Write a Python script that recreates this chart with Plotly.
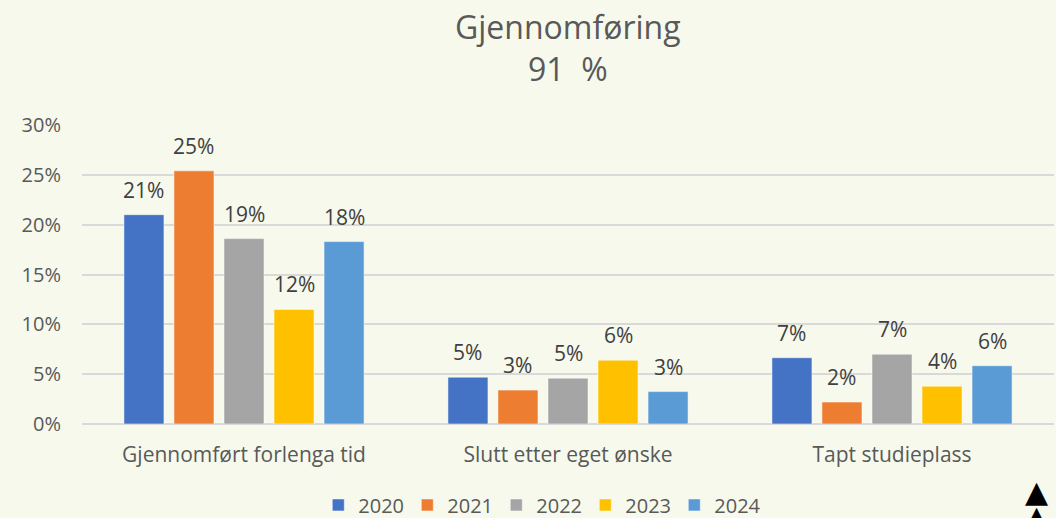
import plotly.graph_objects as go

categories = ["Gjennomført forlenga tid", "Slutt etter eget ønske", "Tapt studieplass"]
years = ["2020", "2021", "2022", "2023", "2024"]
values = {
    "2020": [0.210, 0.047, 0.0665],
    "2021": [0.254, 0.034, 0.022],
    "2022": [0.186, 0.046, 0.070],
    "2023": [0.115, 0.064, 0.038],
    "2024": [0.183, 0.0325, 0.0585],
}
colors = ["#4472C4", "#ED7D31", "#A5A5A5", "#FFC000", "#5B9BD5"]
title_lines = ["Gjennomføring", "91  %"]
y_ticks = [0, 0.05, 0.10, 0.15, 0.20, 0.25, 0.30]

bg = "#F6F9EC"
font_family = "Open Sans, Noto Sans, sans-serif"

fig = go.Figure()
for yr, col in zip(years, colors):
    fig.add_trace(go.Bar(
        name=yr, x=categories, y=values[yr],
        marker=dict(color=col, line=dict(color="rgba(255,255,255,0.5)", width=1)),
        hoverinfo="skip",
    ))

# data labels via annotations (positioned above each bar)
bargap = 0.228
slot = (1 - bargap) / len(years)
annotations = []
for j, yr in enumerate(years):
    for i, v in enumerate(values[yr]):
        annotations.append(dict(
            x=i + (j - (len(years) - 1) / 2) * slot, y=v, xref="x", yref="y",
            text=f"{round(v*100)}%", showarrow=False, yanchor="bottom", yshift=9,
            font=dict(size=21, color="#404040", family=font_family),
        ))

annotations.append(dict(
    x=0.5, y=1, xref="paper", yref="paper", xanchor="center", yanchor="top",
    yshift=122, text="<br>".join(title_lines), showarrow=False, align="center",
    font=dict(size=32, color="#595959", family=font_family),
))
# scroll arrows seen at the bottom right of the picture
for ys in [-67, -92]:
    annotations.append(dict(
        x=0.9825, y=0, xref="paper", yref="paper", xanchor="center", yanchor="middle",
        yshift=ys, text="▲", showarrow=False,
        font=dict(size=30, color="#000000", family="DejaVu Sans"),
    ))

# the chart continues slightly below the visible 518 px window, as in the reference
fig.update_layout(
    width=1056, height=532,
    paper_bgcolor=bg, plot_bgcolor=bg,
    margin=dict(l=82, r=2, t=125, b=108),
    barmode="group", bargap=bargap, bargroupgap=0.2,
    showlegend=True,
    legend=dict(orientation="h", x=0.472, xanchor="center", y=-0.336, yanchor="bottom",
                font=dict(size=20, color="#595959", family=font_family),
                itemwidth=30, traceorder="normal", entrywidth=44, entrywidthmode="pixels"),
    annotations=annotations,
    font=dict(family=font_family, color="#595959"),
)
fig.update_yaxes(
    range=[0, 0.30], tickvals=y_ticks, tickformat=".0%",
    gridcolor="#D9D9D9", gridwidth=1.5, zeroline=True, zerolinecolor="#D9D9D9", zerolinewidth=1.5,
    tickfont=dict(size=20, color="#595959"), ticklabelstandoff=20, showline=False,
)
fig.update_xaxes(
    tickfont=dict(size=21, color="#595959"), showline=False, ticklabelstandoff=16,
)

fig.write_html("out.html", config={"displayModeBar": False},
               post_script="document.body.style.margin='0';document.body.style.overflow='hidden';")
